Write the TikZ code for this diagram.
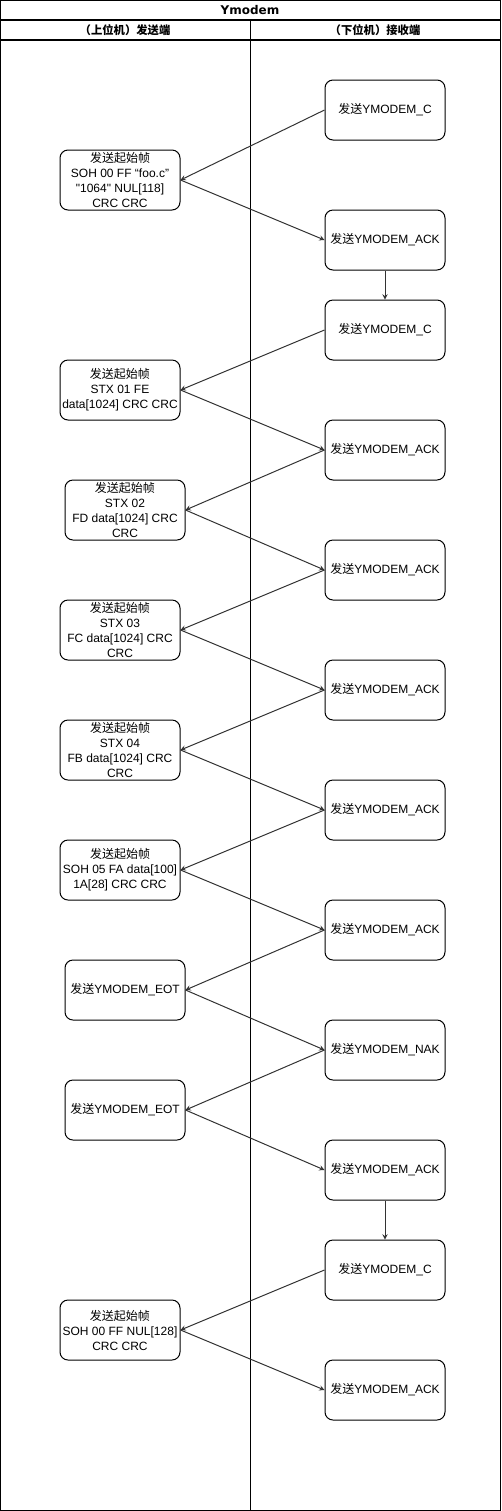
\documentclass[tikz,border=0pt]{standalone}
\usepackage{fontspec}
\setmainfont{Liberation Sans}
\newfontfamily\cjk{Noto Sans CJK SC}
\newfontfamily\titlefont{DejaVu Sans}
\newcommand{\sendtxt}{{\cjk 发送}}
\newcommand{\startframe}{{\cjk 发送起始帧}}
\begin{document}
\begin{tikzpicture}[>=stealth, x=0.75pt, y=-0.75pt,
    box/.style={draw, line width=0.75pt, rounded corners=6pt, minimum width=90pt, minimum height=45pt,
        align=center, font=\fontsize{9}{11.25}\selectfont, inner sep=1pt},
    msg/.style={->, line width=0.75pt, draw=black!80}]
    \useasboundingbox (0,0) rectangle (501,1511);
    % lanes
    \draw [thick] (0.5,0.5) rectangle (500.5,1510.5);
    \draw [thick] (0.5,20) -- (500.5,20);
    \draw [thick] (0.5,40) -- (500.5,40);
    \draw [thick] (250.5,20) -- (250.5,1510.5);
    \node (title) at (250,10) {\titlefont\bfseries\fontsize{9}{10}\selectfont Ymodem};
    \node (sender) at (125,30) {\cjk\bfseries\fontsize{8.5}{10}\selectfont （上位机）发送端};
    \node (receiver) at (375,30) {\cjk\bfseries\fontsize{8.5}{10}\selectfont （下位机）接收端};
    % receiver side
    \node [box] (r1)  at (385,110)  {\sendtxt YMODEM\_C};
    \node [box] (r2)  at (385,240)  {\sendtxt YMODEM\_ACK};
    \node [box] (r3)  at (385,330)  {\sendtxt YMODEM\_C};
    \node [box] (r4)  at (385,450)  {\sendtxt YMODEM\_ACK};
    \node [box] (r5)  at (385,570)  {\sendtxt YMODEM\_ACK};
    \node [box] (r6)  at (385,690)  {\sendtxt YMODEM\_ACK};
    \node [box] (r7)  at (385,810)  {\sendtxt YMODEM\_ACK};
    \node [box] (r8)  at (385,930)  {\sendtxt YMODEM\_ACK};
    \node [box] (r9)  at (385,1050) {\sendtxt YMODEM\_NAK};
    \node [box] (r10) at (385,1170) {\sendtxt YMODEM\_ACK};
    \node [box] (r11) at (385,1270) {\sendtxt YMODEM\_C};
    \node [box] (r12) at (385,1390) {\sendtxt YMODEM\_ACK};
    % sender side
    \node [box] (l1) at (120,180)  {\startframe\\SOH 00 FF “foo.c”\\\textquotedbl 1064\textquotedbl{} NUL[118]\\CRC CRC};
    \node [box] (l2) at (120,390)  {\startframe\\STX 01 FE\\data[1024] CRC CRC};
    \node [box] (l3) at (125,510)  {\startframe\\STX 02\\FD data[1024] CRC\\CRC};
    \node [box] (l4) at (120,630)  {\startframe\\STX 03\\FC data[1024] CRC\\CRC};
    \node [box] (l5) at (120,750)  {\startframe\\STX 04\\FB data[1024] CRC\\CRC};
    \node [box] (l6) at (120,870)  {\startframe\\SOH 05 FA data[100]\\1A[28] CRC CRC};
    \node [box] (l7) at (125,990)  {\sendtxt YMODEM\_EOT};
    \node [box] (l8) at (125,1110) {\sendtxt YMODEM\_EOT};
    \node [box] (l9) at (120,1330) {\startframe\\SOH 00 FF NUL[128]\\CRC CRC};
    % messages
    \draw [msg] (r1.west) -- (l1.east);
    \draw [msg] (l1.east) -- (r2.west);
    \draw [msg] (r2.south) -- (r3.north);
    \draw [msg] (r3.west) -- (l2.east);
    \draw [msg] (l2.east) -- (r4.west);
    \draw [msg] (r4.west) -- (l3.east);
    \draw [msg] (l3.east) -- (r5.west);
    \draw [msg] (r5.west) -- (l4.east);
    \draw [msg] (l4.east) -- (r6.west);
    \draw [msg] (r6.west) -- (l5.east);
    \draw [msg] (l5.east) -- (r7.west);
    \draw [msg] (r7.west) -- (l6.east);
    \draw [msg] (l6.east) -- (r8.west);
    \draw [msg] (r8.west) -- (l7.east);
    \draw [msg] (l7.east) -- (r9.west);
    \draw [msg] (r9.west) -- (l8.east);
    \draw [msg] (l8.east) -- (r10.west);
    \draw [msg] (r10.south) -- (r11.north);
    \draw [msg] (r11.west) -- (l9.east);
    \draw [msg] (l9.east) -- (r12.west);
\end{tikzpicture}
\end{document}
